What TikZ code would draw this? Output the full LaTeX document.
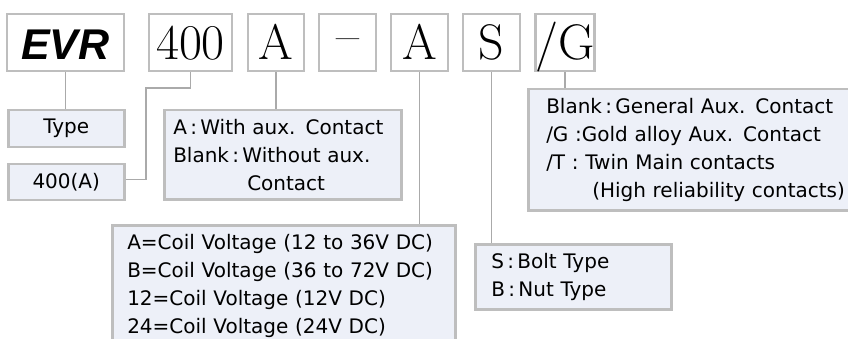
\documentclass[tikz,border=0pt]{standalone}
\usepackage{fontspec}
\usepackage{tikz}
\usetikzlibrary{calc}
\newfontfamily\dejavu{DejaVu Sans}
\newfontfamily\arial{Liberation Sans}
\definecolor{boxgray}{RGB}{190,190,190}
\definecolor{linegray}{RGB}{170,170,170}
\definecolor{paleblue}{RGB}{237,240,248}

\begin{document}
\begin{tikzpicture}[x=1pt,y=-1pt]
\useasboundingbox (0,0) rectangle (848,339);
\clip (0,0) rectangle (848,339);
\tikzset{
  code/.style={draw=boxgray,line width=2.5pt,fill=white,inner sep=0pt,
    minimum height=57pt,text height=35pt,text depth=0pt,
    font=\fontsize{50}{50}\selectfont},
  info/.style={draw=boxgray,line width=2.5pt,fill=paleblue,anchor=north west,
    align=left,inner ysep=9pt,font=\dejavu\fontsize{20}{28}\selectfont},
  link/.style={draw=linegray,line width=1.2pt}
}
% the code boxes
\node[code,minimum width=117pt,font=\arial\bfseries\itshape\fontsize{43}{43}\selectfont]
  (evr) at (65.5,42.5) {EVR};
\foreach \name/\x/\w/\txt in {rating/190.5/83/400,auxc/276/56/A,
  dash/347.5/57/{\raisebox{7pt}{--}},coil/419.5/57/A,term/491.5/57/S,cont/565/58/{/G}}
{
  \node[code,minimum width=\w pt] (\name) at (\x,42.5) {\txt};
}
% the explanation boxes
\node[info,align=center,minimum width=116pt,minimum height=35pt] (typebox) at (7,109) {Type};
\node[info,align=center,minimum width=116pt,minimum height=35pt] (ratingbox) at (7,163) {400(A)};
\node[info,inner xsep=9pt,text width=219pt,minimum height=87pt] (auxbox) at (163,109)
  {A\,:\,With aux. Contact\\Blank\,:\,Without aux.\\\hspace*{74pt}Contact};
\node[info,inner xsep=15pt,text width=313pt] (coilbox) at (111,224)
  {A=Coil Voltage (12 to 36V DC)\\B=Coil Voltage (36 to 72V DC)\\
   12=Coil Voltage (12V DC)\\24=Coil Voltage (24V DC)};
\node[info,inner xsep=16pt,text width=164pt,minimum height=59pt] (termbox) at (474,243)
  {S\,:\,Bolt Type\\B\,:\,Nut Type};
\node[info,inner xsep=18pt,text width=304pt,minimum height=119pt] (contbox) at (527,88)
  {Blank\,:\,General Aux. Contact\\/G :Gold alloy Aux. Contact\\
   /T : Twin Main contacts\\\hspace*{46pt}(High reliability contacts)};
% the connecting lines
\coordinate (bend) at (146,88);
\draw[link] (evr.south) -- (evr.south |- typebox.north);
\draw[link] (rating.south) |- (bend) |- ([yshift=3pt]ratingbox.east);
\draw[link] (auxc.south) -- (auxc.south |- auxbox.north);
\draw[link] (coil.south) -- (coil.south |- coilbox.north);
\draw[link] (term.south) -- (term.south |- termbox.north);
\draw[link] (cont.south) -- (cont.south |- contbox.north);
\end{tikzpicture}
\end{document}
